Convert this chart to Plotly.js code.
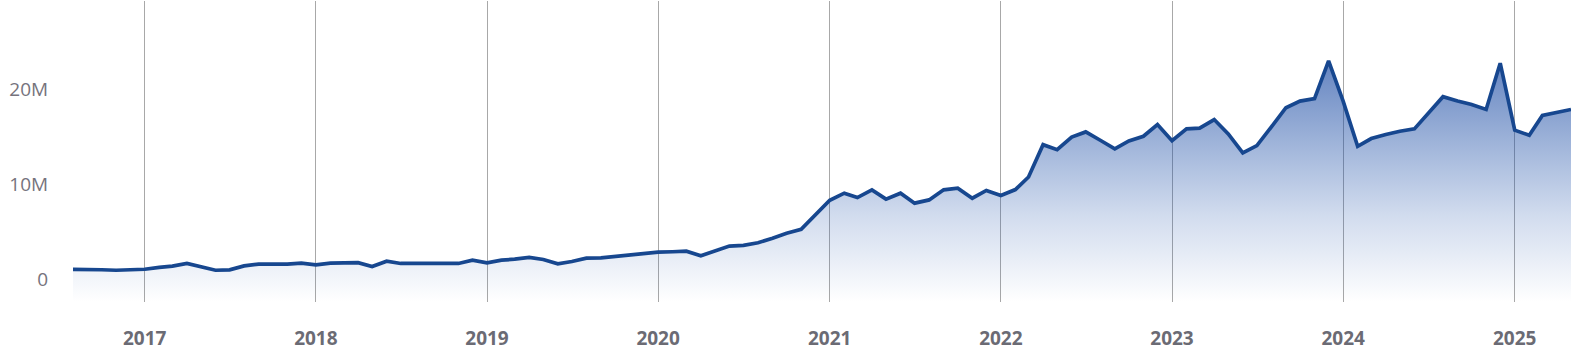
<!DOCTYPE html>
<html>
<head>
<meta charset="utf-8">
<script src="https://cdn.plot.ly/plotly-3.0.1.min.js"></script>
<style>
html,body{margin:0;padding:0;background:#fff;}
#chart{width:1578px;height:361px;}
</style>
</head>
<body>
<div id="chart"></div>
<script>
// Monthly values, Aug 2016 .. May 2025 (millions)
const startYear = 2016;
const startMonth = 8;
const valuesM = [
  1.08, 1.10, 1.05, 1.00, 1.08,            // 2016 Aug-Dec
  1.10, 1.30, 1.43, 1.71, 1.35, 1.00, 1.04, 1.46, 1.64, 1.64, 1.64, 1.74, // 2017
  1.57, 1.74, 1.76, 1.80, 1.39, 1.95, 1.71, 1.74, 1.74, 1.71, 1.71, 2.06, // 2018
  1.78, 2.06, 2.16, 2.34, 2.13, 1.67, 1.92, 2.27, 2.30, 2.45, 2.60, 2.83, // 2019
  2.90, 2.94, 3.00, 2.52, 3.00, 3.54, 3.61, 3.89, 4.35, 4.88, 5.30, 6.80, // 2020
  8.35, 9.10, 8.64, 9.45, 8.47, 9.10, 8.05, 8.39, 9.45, 9.63, 8.57, 9.38, // 2021
  8.85, 9.48, 10.8, 14.2, 13.67, 15.0, 15.54, 14.66, 13.75, 14.59, 15.08, 16.31, // 2022
  14.62, 15.86, 15.93, 16.84, 15.33, 13.33, 14.10, 16.07, 18.08, 18.78, 19.03, 23.0, // 2023
  18.78, 14.02, 14.84, 15.26, 15.61, 15.86, 17.48, 19.24, 18.78, 18.43, 17.90, 22.76, // 2024
  15.72, 15.19, 17.27, 17.55, 17.90          // 2025 Jan-May
];
const yTickVals = [0, 10000000, 20000000];
const yTickText = ['0', '10M', '20M'];
const xTickVals = ['2017-01-01','2018-01-01','2019-01-01','2020-01-01','2021-01-01','2022-01-01','2023-01-01','2024-01-01','2025-01-01'];
const xTickText = ['2017','2018','2019','2020','2021','2022','2023','2024','2025'];

const dates = valuesM.map((_, i) => {
  const m0 = startMonth - 1 + i;
  const y = startYear + Math.floor(m0 / 12);
  const m = (m0 % 12) + 1;
  return y + '-' + String(m).padStart(2, '0') + '-01';
});
const values = valuesM.map(v => v * 1e6);

const yMin = -2.34e6, yMax = 29.3e6;
const baseline = dates.map(() => yMin);

const traces = [
  {
    x: dates, y: baseline, type: 'scatter', mode: 'lines',
    line: {width: 0, color: 'rgba(0,0,0,0)'}, hoverinfo: 'skip', showlegend: false
  },
  {
    x: dates, y: values, type: 'scatter', mode: 'lines',
    fill: 'tonexty',
    fillgradient: {
      type: 'vertical',
      start: yMin, stop: 23.5e6,
      colorscale: [[0, 'rgba(28,80,170,0.0)'], [0.35, 'rgba(28,80,170,0.2)'], [1, 'rgba(22,70,160,0.68)']]
    },
    line: {color: '#17478f', width: 3.7, shape: 'linear'},
    showlegend: false
  }
];

const layout = {
  width: 1578, height: 361,
  margin: {l: 73, r: 7, t: 1, b: 59},
  paper_bgcolor: '#ffffff', plot_bgcolor: '#ffffff',
  showlegend: false,
  xaxis: {
    type: 'date',
    range: ['2016-08-01', '2025-05-01'],
    tickmode: 'array', tickvals: xTickVals, ticktext: xTickText,
    showgrid: true, gridcolor: '#a8a8a8', gridwidth: 1,
    zeroline: false, showline: false,
    ticks: 'outside', ticklen: 19, tickcolor: 'rgba(0,0,0,0)',
    tickfont: {family: 'Open Sans, sans-serif', size: 19, color: '#6b6b74', weight: 'bold'}
  },
  yaxis: {
    range: [yMin, yMax],
    tickmode: 'array', tickvals: yTickVals, ticktext: yTickText,
    showgrid: false, zeroline: false, showline: false,
    ticks: 'outside', ticklen: 20, tickcolor: 'rgba(0,0,0,0)',
    tickfont: {family: 'Open Sans, sans-serif', size: 19, color: '#76737d'}
  }
};

Plotly.newPlot('chart', traces, layout, {displayModeBar: false, staticPlot: true});
</script>
</body>
</html>
